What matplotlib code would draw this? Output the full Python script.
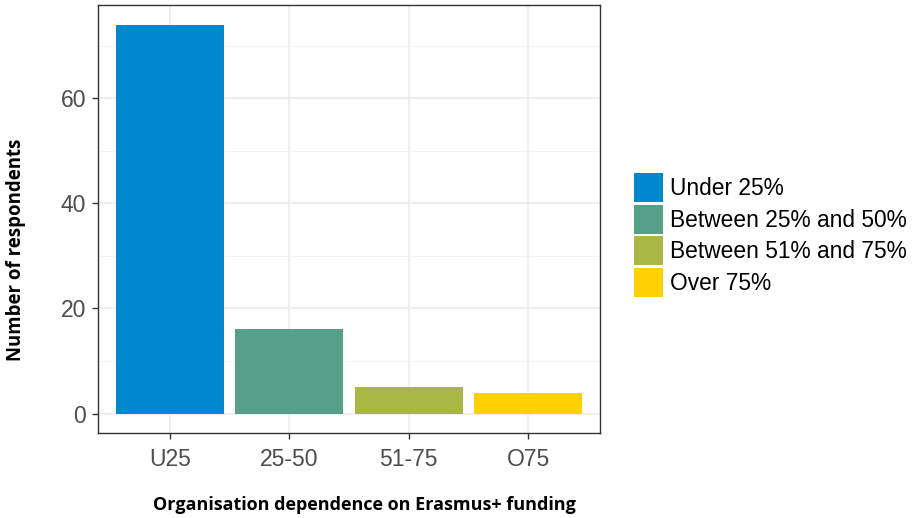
import matplotlib
matplotlib.use("Agg")
import matplotlib.pyplot as plt
from matplotlib.patches import Patch
from matplotlib.ticker import MultipleLocator

categories = ["U25", "25-50", "51-75", "O75"]
values = [74, 16, 5, 4]
legend_labels = ["Under 25%", "Between 25% and 50%", "Between 51% and 75%", "Over 75%"]
colors = ["#0088CF", "#56A08A", "#A9B845", "#FFD100"]

fig = plt.figure(figsize=(9.16, 5.18), dpi=100)
ax = fig.add_axes([0.107, 0.164, 0.548, 0.826])

x = range(len(categories))
ax.bar(x, values, width=0.9, color=colors, zorder=3)

ax.set_xlim(-0.6, 3.6)
ax.set_ylim(-3.7, 77.7)
ax.set_xticks(list(x))
ax.set_xticklabels(categories)
ax.yaxis.set_major_locator(MultipleLocator(20))
ax.yaxis.set_minor_locator(MultipleLocator(10))
ax.grid(True, which="major", color="#EBEBEB", linewidth=1.1, zorder=0)
ax.grid(True, which="minor", axis="y", color="#F2F2F2", linewidth=0.6, zorder=0)
ax.set_axisbelow(True)
for s in ax.spines.values():
    s.set_color("#333333")
    s.set_linewidth(1.0)
ax.tick_params(axis="both", which="major", labelsize=16.5, labelcolor="#4D4D4D",
               color="#333333", length=4.5, width=1, pad=4)
ax.tick_params(axis="x", which="major", pad=6)
ax.tick_params(axis="y", which="minor", length=0)
for lab in ax.get_xticklabels() + ax.get_yticklabels():
    lab.set_family("Liberation Sans")

fig.text(364 / 916, 1 - 505 / 518, "Organisation dependence on Erasmus+ funding",
         family="Open Sans", fontweight="bold", fontsize=13, ha="center", va="center")
fig.text(16 / 916, 1 - 250 / 518, "Number of respondents", rotation=90,
         family="Open Sans", fontweight="bold", fontsize=13.4, ha="center", va="center")

handles = [Patch(facecolor=c, edgecolor="none") for c in colors]
fig.legend(handles, legend_labels, loc="center left", bbox_to_anchor=(634 / 916, 1 - 235 / 518),
           frameon=False, prop={"family": "Liberation Sans", "size": 16.4},
           handlelength=1.27, handleheight=1.58, labelspacing=0.11,
           handletextpad=0.3, borderaxespad=0, borderpad=0)

fig.savefig("out.png", dpi=100)
